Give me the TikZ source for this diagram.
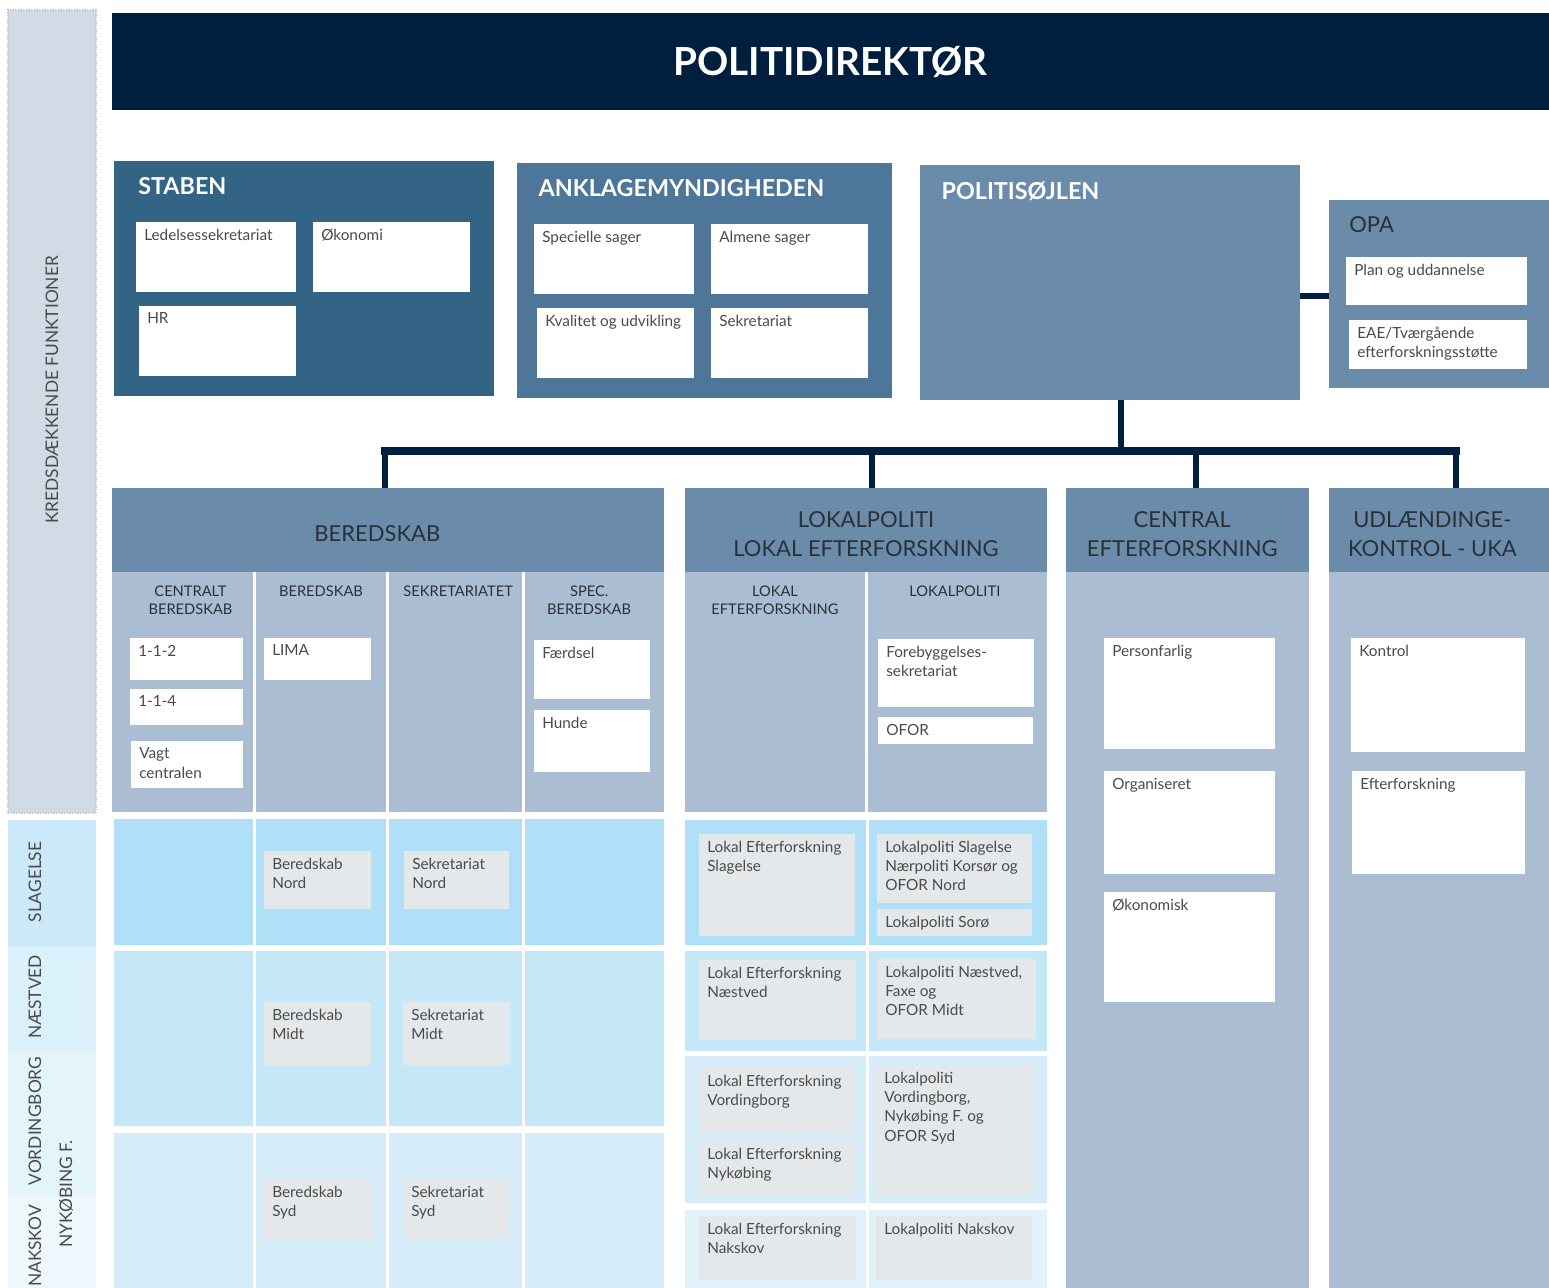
\documentclass[tikz,border=0pt]{standalone}
\usepackage{fontspec}
\setmainfont{Lato}
\definecolor{navy}{HTML}{001E3D}
\definecolor{stabcol}{HTML}{336385}
\definecolor{anklcol}{HTML}{4E7698}
\definecolor{polcol}{HTML}{6A8CAA}
\definecolor{subcol}{HTML}{AABDD3}
\definecolor{sidecol}{HTML}{D0DBE6}
\definecolor{dotgray}{HTML}{C4C8CC}
\definecolor{rowA}{HTML}{B0E0F7}
\definecolor{rowB}{HTML}{C5E8F8}
\definecolor{rowC}{HTML}{D6EDF9}
\definecolor{rowD}{HTML}{E1F2FB}
\definecolor{regA}{HTML}{CBE9F8}
\definecolor{regB}{HTML}{DAF0FA}
\definecolor{regC}{HTML}{E4F4FB}
\definecolor{regD}{HTML}{EDF7FC}
\definecolor{greybox}{HTML}{E5E8EB}
\definecolor{txtgray}{HTML}{4A4A4A}
\definecolor{hdrtxt}{HTML}{2A3038}

\tikzset{
  base/.style={rectangle, anchor=north west, inner sep=0pt, outer sep=0pt},
  unit/.style={base, fill=#1},
  boxtext/.style={anchor=north west, inner xsep=6pt, inner ysep=5pt, align=left,
    font=\fontsize{11.5}{14.5}\selectfont, text=txtgray},
  wbox/.style={base, fill=white, label={[boxtext]north west:{#1}}},
  gbox/.style={base, fill=greybox, label={[boxtext]north west:{#1}}},
  titletext/.style={anchor=north west, inner sep=0pt, xshift=16pt, yshift=-12.5pt,
    font=\bfseries\fontsize{17.5}{20}\selectfont, text=white},
  subhead/.style={anchor=north, inner sep=0pt, yshift=-10pt, align=center,
    font=\fontsize{11}{14}\selectfont, text=hdrtxt},
  colbox/.style={base, fill=subcol, label={[subhead]north:{#1}}},
  hdrtext/.style={anchor=center, inner sep=0pt, yshift=-3pt, align=center,
    text=hdrtxt, font=\fontsize{16.5}{22}\selectfont},
  header/.style={base, fill=polcol, label={[hdrtext]center:{#1}}},
  sidetext/.style={rotate=90, inner sep=0pt, font=\fontsize{13}{15}\selectfont, text=txtgray},
  link/.style={draw=navy, line width=4.5pt},
  bar/.style={draw=navy, line width=6pt, line cap=rect}
}

\newcommand{\orgbox}[7]{\node[base,#6,minimum width={(#4-#2)*0.75pt},minimum height={(#5-#3)*0.75pt}] (#1) at (#2,#3) {#7};}

\begin{document}
\begin{tikzpicture}[x=0.75pt,y=-0.75pt]
  \useasboundingbox (0,0) rectangle (1549,1288);

  % side bands
  \orgbox{kreds}{8}{10}{96}{813}{unit=sidecol, draw=dotgray, densely dotted, line width=1pt}{}
  \node[sidetext] (kredslbl) at (52,390) {KREDSDÆKKENDE FUNKTIONER};
  \orgbox{regslag}{8}{820}{96}{946}{unit=regA}{}
  \orgbox{regnaes}{8}{946}{96}{1050}{unit=regB}{}
  \orgbox{regvord}{8}{1050}{96}{1195}{unit=regC}{}
  \orgbox{regnak}{8}{1195}{96}{1288}{unit=regD}{}
  \node[sidetext] (slaglbl) at (35,882) {SLAGELSE};
  \node[sidetext] (naeslbl) at (35,997) {NÆSTVED};
  \node[sidetext] (vordlbl) at (35,1121) {VORDINGBORG};
  \node[sidetext] (nyklbl) at (66,1194) {NYKØBING F.};
  \node[sidetext] (naklbl) at (35,1246) {NAKSKOV};

  % top level
  \orgbox{direktor}{112}{13}{1549}{110}{unit=navy, text=white, font=\bfseries\fontsize{29}{32}\selectfont}{POLITIDIREKTØR}

  \orgbox{staben}{114}{161}{494}{396}{unit=stabcol, label={[titletext, xshift=2pt]north west:STABEN}}{}
  \orgbox{ledelse}{136}{222}{296}{292}{wbox=Ledelsessekretariat}{}
  \orgbox{okonomi}{313}{222}{470}{292}{wbox=Økonomi}{}
  \orgbox{hr}{139}{306}{296}{376}{wbox=HR}{}

  \orgbox{ankl}{517}{163}{892}{398}{unit=anklcol, label={[titletext]north west:ANKLAGEMYNDIGHEDEN}}{}
  \orgbox{speciel}{534}{224}{694}{294}{wbox=Specielle sager}{}
  \orgbox{almene}{711}{224}{868}{294}{wbox=Almene sager}{}
  \orgbox{kvalitet}{537}{308}{694}{378}{wbox=Kvalitet og udvikling}{}
  \orgbox{ankelsekr}{711}{308}{868}{378}{wbox=Sekretariat}{}

  \orgbox{politi}{920}{165}{1300}{400}{unit=polcol, label={[titletext]north west:POLITISØJLEN}}{}

  \orgbox{opa}{1329}{200}{1549}{388}{unit=polcol, label={[titletext, xshift=-1pt, font=\fontsize{16.5}{20}\selectfont, text=hdrtxt]north west:OPA}}{}
  \orgbox{plan}{1346}{257}{1527}{305}{wbox=Plan og uddannelse}{}
  \orgbox{eae}{1349}{320}{1527}{369}{wbox={EAE/Tværgående\\efterforskningsstøtte}}{}

  % connectors
  \coordinate (opalink) at (1300,296);
  \draw[link] (opalink) -- (opalink -| opa.west);
  \coordinate (hub) at (1121,451);
  \draw[link] (hub |- politi.south) -- (hub);
  \coordinate (d1) at (385,451);
  \coordinate (d2) at (872,451);
  \coordinate (d3) at (1196,451);
  \coordinate (d4) at (1456,451);

  % beredskab
  \orgbox{bered}{112}{488}{664}{572}{unit=polcol, label={[hdrtext, xshift=-8pt]center:BEREDSKAB}}{}
  \orgbox{centralt}{112}{572}{253}{812}{unit=subcol, label={[subhead, xshift=6pt]north:{CENTRALT\\BEREDSKAB}}}{}
  \orgbox{beredcol}{256}{572}{386}{812}{colbox=BEREDSKAB}{}
  \orgbox{sekrcol}{389}{572}{522}{812}{unit=subcol, label={[subhead, xshift=2pt]north:SEKRETARIATET}}{}
  \orgbox{speccol}{525}{572}{664}{812}{unit=subcol, label={[subhead, xshift=-4pt]north:{SPEC.\\BEREDSKAB}}}{}
  \orgbox{b112}{130}{638}{243}{680}{wbox=1-1-2}{}
  \orgbox{b114}{130}{689}{243}{725}{wbox=1-1-4}{}
  \orgbox{vagt}{131}{741}{243}{788}{wbox={Vagt\\centralen}}{}
  \orgbox{lima}{264}{638}{371}{680}{wbox=LIMA}{}
  \orgbox{faerdsel}{534}{640}{650}{699}{wbox=Færdsel}{}
  \orgbox{hunde}{534}{710}{650}{772}{wbox=Hunde}{}

  \foreach \col/\xa/\xb in {1/114/253, 2/256/386, 3/389/522, 4/525/664} {
    \orgbox{brA\col}{\xa}{819}{\xb}{945}{unit=rowA}{}
    \orgbox{brB\col}{\xa}{951}{\xb}{1126}{unit=rowB}{}
    \orgbox{brC\col}{\xa}{1133}{\xb}{1288}{unit=rowC}{}
  }
  \orgbox{bnord}{264}{851}{371}{909}{gbox={Beredskab\\Nord}}{}
  \orgbox{snord}{404}{851}{509}{909}{gbox={Sekretariat\\Nord}}{}
  \orgbox{bmidt}{264}{1002}{371}{1065}{gbox={Beredskab\\Midt}}{}
  \orgbox{smidt}{403}{1002}{510}{1065}{gbox={Sekretariat\\Midt}}{}
  \orgbox{bsyd}{264}{1179}{371}{1239}{gbox={Beredskab\\Syd}}{}
  \orgbox{ssyd}{403}{1179}{510}{1239}{gbox={Sekretariat\\Syd}}{}

  % lokalpoliti
  \orgbox{lokal}{685}{488}{1047}{572}{header={LOKALPOLITI\\LOKAL EFTERFORSKNING}}{}
  \orgbox{lokefcol}{685}{572}{865}{812}{colbox={LOKAL\\EFTERFORSKNING}}{}
  \orgbox{lokpolcol}{868}{572}{1047}{812}{unit=subcol, label={[subhead, xshift=-2pt]north:LOKALPOLITI}}{}
  \orgbox{forebyg}{878}{639}{1034}{707}{wbox={Forebyggelses-\\sekretariat}}{}
  \orgbox{ofor}{878}{717}{1033}{744}{wbox=OFOR}{}

  \foreach \row/\ya/\yb/\rc in {1/820/945/rowA, 2/951/1051/rowB, 3/1056/1203/rowC, 4/1210/1288/rowD} {
    \orgbox{lrL\row}{685}{\ya}{866}{\yb}{unit=\rc}{}
    \orgbox{lrR\row}{869}{\ya}{1047}{\yb}{unit=\rc}{}
  }
  \orgbox{leslag}{699}{834}{855}{936}{gbox={Lokal Efterforskning\\Slagelse}}{}
  \orgbox{lpslag}{877}{834}{1032}{903}{gbox={Lokalpoliti Slagelse\\Nærpoliti Korsør og\\OFOR Nord}}{}
  \orgbox{lpsoro}{877}{909}{1032}{936}{gbox=Lokalpoliti Sorø}{}
  \orgbox{lenaes}{699}{960}{856}{1040}{gbox={Lokal Efterforskning\\Næstved}}{}
  \orgbox{lpnaes}{877}{959}{1036}{1039}{gbox={Lokalpoliti Næstved,\\Faxe og\\OFOR Midt}}{}
  \orgbox{levord}{699}{1068}{855}{1133}{gbox={Lokal Efterforskning\\Vordingborg}}{}
  \orgbox{lenyk}{699}{1141}{856}{1195}{gbox={Lokal Efterforskning\\Nykøbing}}{}
  \orgbox{lpvord}{876}{1065}{1033}{1195}{gbox={Lokalpoliti\\Vordingborg,\\Nykøbing F. og\\OFOR Syd}}{}
  \orgbox{lenak}{699}{1216}{856}{1280}{gbox={Lokal Efterforskning\\Nakskov}}{}
  \orgbox{lpnak}{876}{1216}{1032}{1280}{gbox=Lokalpoliti Nakskov}{}

  % central efterforskning
  \orgbox{central}{1066}{488}{1309}{572}{unit=polcol, label={[hdrtext, xshift=-4pt]center:{CENTRAL\\EFTERFORSKNING}}}{}
  \orgbox{centralbody}{1066}{572}{1309}{1288}{unit=subcol}{}
  \orgbox{personfarlig}{1104}{638}{1275}{749}{wbox=Personfarlig}{}
  \orgbox{organiseret}{1104}{771}{1275}{874}{wbox=Organiseret}{}
  \orgbox{okonomisk}{1104}{892}{1275}{1002}{wbox=Økonomisk}{}

  % udlaendingekontrol
  \orgbox{udl}{1329}{488}{1549}{572}{unit=polcol, label={[hdrtext, xshift=-5pt]center:{UDLÆNDINGE-\\KONTROL - UKA}}}{}
  \orgbox{udlbody}{1329}{572}{1549}{1288}{unit=subcol}{}
  \orgbox{kontrol}{1351}{638}{1525}{752}{wbox=Kontrol}{}
  \orgbox{efterf}{1352}{771}{1525}{874}{wbox=Efterforskning}{}

  \draw[bar] (d1) -- (d4);
  \foreach \d/\n in {d1/bered, d2/lokal, d3/central, d4/udl}
    \draw[link] (\d) -- (\d |- \n.north);
\end{tikzpicture}
\end{document}
